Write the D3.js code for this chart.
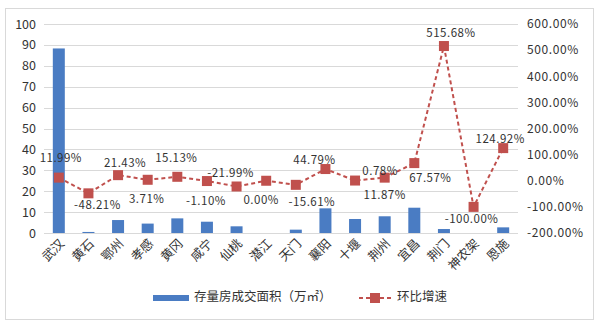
<!DOCTYPE html>
<html>
<head>
<meta charset="utf-8">
<script src="https://cdn.jsdelivr.net/npm/d3@7"></script>
<style>
  html, body { margin: 0; padding: 0; background: #fff; }
  svg { display: block; }
  text { font-family: "Noto Sans CJK SC", "DejaVu Sans", sans-serif; fill: #333; }
</style>
</head>
<body>
<svg id="chart" width="600" height="323"></svg>
<script>
// Cities and monthly figures
const cities = ["武汉", "黄石", "鄂州", "孝感", "黄冈", "咸宁", "仙桃", "潜江", "天门", "襄阳", "十堰", "荆州", "宜昌", "荆门", "神农架", "恩施"];
const area = [88.3, 0.5, 6.2, 4.5, 7.0, 5.4, 3.2, 0, 1.6, 11.8, 6.7, 8.0, 12.1, 1.9, 0, 2.7];
const growth = [11.99, -48.21, 21.43, 3.71, 15.13, -1.10, -21.99, 0.00, -15.61, 44.79, 0.78, 11.87, 67.57, 515.68, -100.00, 124.92];
const leftTicks = [0, 10, 20, 30, 40, 50, 60, 70, 80, 90, 100];
const rightTicks = [-200, -100, 0, 100, 200, 300, 400, 500, 600];
const legendLabels = ["存量房成交面积（万㎡）", "环比增速"];

// offset of each growth label's centre from its marker, in pixels
const labelNudge = [
  [2, -21], [9, 11], [7, -13], [-1, 18], [-1, -20], [-1, 19], [-6, -14], [-5, 18],
  [16, 16], [-11, -10], [25, -11], [0, 16], [16, 14], [7, -14], [-2, 11], [-3, -10]
];

const svg = d3.select("#chart");
const margin = { left: 44, right: 82, top: 24, bottom: 90 };
const W = 600, H = 323;
const x0 = margin.left, x1 = W - margin.right;
const y0 = H - margin.bottom, y1 = margin.top;

const blue = "#4a7cc3", red = "#c0504d", grid = "#d9d9d9";

// outer frame
svg.append("rect").attr("x", 5.5).attr("y", 8.5).attr("width", 588).attr("height", 311)
  .attr("fill", "none").attr("stroke", "#d9d9d9");

const x = d3.scaleBand().domain(cities).range([x0, x1]);
const yL = d3.scaleLinear().domain([0, 100]).range([y0, y1]);
const yR = d3.scaleLinear().domain([-200, 600]).range([y0, y1]);

// gridlines
svg.append("g").selectAll("line").data(leftTicks).join("line")
  .attr("x1", x0).attr("x2", x1)
  .attr("y1", d => Math.round(yL(d)) + 0.5).attr("y2", d => Math.round(yL(d)) + 0.5)
  .attr("stroke", grid);

// left axis
const axL = svg.append("g").attr("transform", `translate(${x0 - 8},0)`)
  .call(d3.axisLeft(yL).tickValues(leftTicks).tickSize(0).tickPadding(0));
axL.select(".domain").remove();
axL.selectAll("text").style("font-size", "12.5px").attr("fill", "#333").attr("font-family", "Liberation Sans, Arial, sans-serif");

// right axis
const axR = svg.append("g").attr("transform", `translate(${x1 + 9},0)`)
  .call(d3.axisRight(yR).tickValues(rightTicks).tickSize(0).tickPadding(0)
    .tickFormat(d => d.toFixed(2) + "%"));
axR.select(".domain").remove();
axR.selectAll("text").style("font-size", "12px").style("letter-spacing", "0.6px").attr("fill", "#333");

// bars
const bw = 12;
svg.append("g").selectAll("rect").data(cities).join("rect")
  .attr("x", d => x(d) + x.bandwidth() / 2 - bw / 2)
  .attr("y", (d, i) => yL(area[i]))
  .attr("width", bw)
  .attr("height", (d, i) => y0 - yL(area[i]))
  .attr("fill", blue);

// category labels
svg.append("g").selectAll("text").data(cities).join("text")
  .attr("transform", d => `translate(${x(d) + x.bandwidth() / 2 + 4},${y0 + 9}) rotate(-45)`)
  .attr("text-anchor", "end")
  .attr("dominant-baseline", "middle")
  .style("font-size", "12.5px")
  .text(d => d);

// growth line
const cx = d => x(d) + x.bandwidth() / 2;
const line = d3.line().x((d, i) => cx(cities[i])).y(d => yR(d));
svg.append("path").datum(growth).attr("d", line)
  .attr("fill", "none").attr("stroke", red).attr("stroke-width", 2)
  .attr("stroke-dasharray", "4,3");

svg.append("g").selectAll("rect").data(growth).join("rect")
  .attr("x", (d, i) => cx(cities[i]) - 5)
  .attr("y", d => yR(d) - 5)
  .attr("width", 10).attr("height", 10)
  .attr("fill", red);

// value labels
svg.append("g").selectAll("text").data(growth).join("text")
  .attr("x", (d, i) => cx(cities[i]) + labelNudge[i][0])
  .attr("y", (d, i) => yR(d) + labelNudge[i][1])
  .attr("text-anchor", "middle")
  .attr("dominant-baseline", "central")
  .style("font-size", "11.5px")
  .style("letter-spacing", "0.5px")
  .text(d => d.toFixed(2) + "%");

// legend
const lg = svg.append("g");
lg.append("rect").attr("x", 153).attr("y", 295).attr("width", 36).attr("height", 6).attr("fill", blue);
lg.append("text").attr("x", 194).attr("y", 298).attr("dominant-baseline", "middle")
  .style("font-size", "12.5px").text(legendLabels[0]);
lg.append("line").attr("x1", 359).attr("x2", 391).attr("y1", 298).attr("y2", 298)
  .attr("stroke", red).attr("stroke-width", 2).attr("stroke-dasharray", "4,3");
lg.append("rect").attr("x", 370).attr("y", 293).attr("width", 10).attr("height", 10).attr("fill", red);
lg.append("text").attr("x", 397).attr("y", 298).attr("dominant-baseline", "middle")
  .style("font-size", "12.5px").text(legendLabels[1]);
</script>
</body>
</html>
